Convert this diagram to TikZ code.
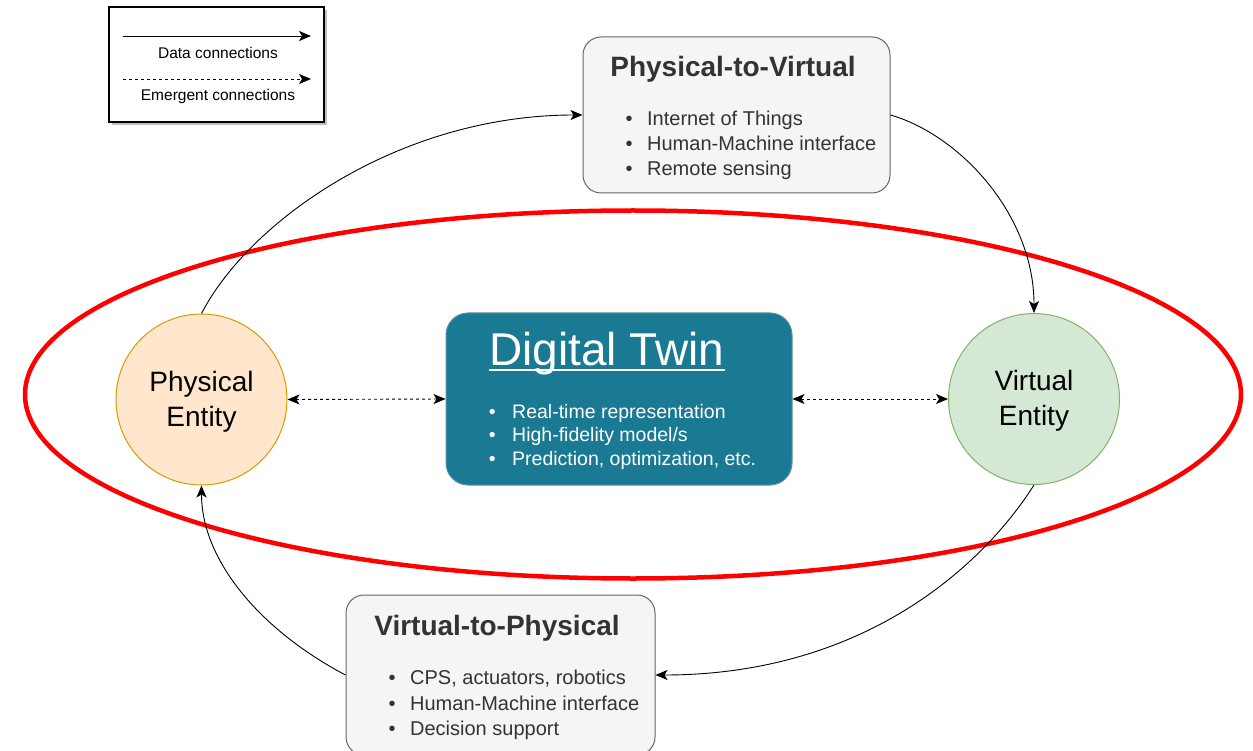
\documentclass[tikz,border=0pt]{standalone}
\usepackage{fontspec}
\setmainfont{Liberation Sans}
\usetikzlibrary{arrows.meta}

\definecolor{greyfill}{HTML}{F5F5F5}
\definecolor{greyline}{HTML}{666666}
\definecolor{greytext}{HTML}{333333}
\definecolor{physfill}{HTML}{FFE6CC}
\definecolor{physline}{HTML}{D79B00}
\definecolor{virtfill}{HTML}{D5E8D4}
\definecolor{virtline}{HTML}{82B366}
\definecolor{twinfill}{HTML}{1A7A93}
\definecolor{twinline}{HTML}{5E8FAA}

\newcommand{\blt}[1]{\makebox[#1][l]{\textbullet}}

\tikzset{
  tip/.style={-{Stealth[length=12pt,width=10pt,inset=3pt]}},
  bothtips/.style={{Stealth[length=12pt,width=10pt,inset=3pt]}-{Stealth[length=12pt,width=10pt,inset=3pt]}},
  dataline/.style={draw=black, line width=0.9pt, tip},
  emergentline/.style={draw=black, line width=0.9pt, dash pattern=on 3pt off 3pt},
  greybox/.style={draw=greyline, fill=greyfill, line width=1pt, rounded corners=18pt, inner sep=0pt},
  entity/.style={circle, line width=1pt, inner sep=0pt, minimum size=171pt},
  entitytext/.style={inner sep=0pt, align=center, font=\fontsize{28}{35}\selectfont},
  plain/.style={inner sep=0pt},
}

\begin{document}
\begin{tikzpicture}[x=1pt, y=-1pt]
\clip (0,0) rectangle (1253,751);
\fill[white] (0,0) rectangle (1253,751);

% legend with drop shadow
\fill[black!25] (112,10) rectangle (327,125);
\node[draw=black, fill=white, line width=1.3pt, minimum width=215pt, minimum height=115pt, inner sep=0pt]
  (legend) at (216.5,64.5) {};
\coordinate (dataA) at (123,36);
\coordinate (dataB) at (311,36);
\coordinate (emerA) at (123,79);
\coordinate (emerB) at (311,79);
\draw[dataline] (dataA) -- (dataB);
\draw[emergentline, tip] (emerA) -- (emerB);
\node[plain, font=\fontsize{15.5}{18}\selectfont] (datalbl) at (218,53) {Data connections};
\node[plain, font=\fontsize{15.5}{18}\selectfont] (emerlbl) at (218,96) {Emergent connections};

% boundary of the digital twin
\draw[red, line width=4.5pt] (633,394.5) ellipse [x radius=608, y radius=184];

% physical-to-virtual box
\node[greybox, minimum width=307pt, minimum height=156pt] (p2v) at (736.5,115) {};
\node[plain, text=greytext, font=\bfseries\fontsize{28}{32}\selectfont] (p2vtitle) at (733,69) {Physical-to-Virtual};
\node[plain, anchor=west, align=left, text=greytext, font=\fontsize{20}{25}\selectfont] (p2vlist) at (625.5,145)
  {\blt{21.5pt}Internet of Things\\ \blt{21.5pt}Human-Machine interface\\ \blt{21.5pt}Remote sensing};

% virtual-to-physical box
\node[greybox, minimum width=309pt, minimum height=160pt] (v2p) at (500.5,675) {};
\node[plain, text=greytext, font=\bfseries\fontsize{28}{32}\selectfont] (v2ptitle) at (497,628) {Virtual-to-Physical};
\node[plain, anchor=west, align=left, text=greytext, font=\fontsize{20}{25.5}\selectfont] (v2plist) at (388.5,705)
  {\blt{21.5pt}CPS, actuators, robotics\\ \blt{21.5pt}Human-Machine interface\\ \blt{21.5pt}Decision support};

% entities
\node[entity, draw=physline, fill=physfill] (pe) at (201.5,399.5) {};
\node[entitytext] (petext) at (201.5,401.5) {Physical\\Entity};
\node[entity, draw=virtline, fill=virtfill] (ve) at (1034,399) {};
\node[entitytext] (vetext) at (1034,401) {Virtual\\Entity};

% digital twin
\node[draw=twinline, fill=twinfill, line width=1pt, rounded corners=22pt, inner sep=0pt,
  minimum width=346pt, minimum height=172pt] (dt) at (619,399) {};
\node[plain, anchor=base, text=white, font=\fontsize{46}{50}\selectfont] (dttitle) at (607,365) {Digital Twin};
\draw[white, line width=2pt] ([yshift=-5pt]dttitle.base west) -- ([yshift=-5pt]dttitle.base east);
\node[plain, anchor=west, align=left, text=white, font=\fontsize{19.5}{23.5}\selectfont] (dtlist) at (488.6,436.5)
  {\blt{23.4pt}Real-time representation\\ \blt{23.4pt}High-fidelity model/s\\ \blt{23.4pt}Prediction, optimization, etc.};

% emergent connections
\draw[emergentline, bothtips] (pe.east) -- (dt.west);
\draw[emergentline, bothtips] (dt.east) -- (ve.west);

% data connections
\draw[dataline] (pe.north) .. controls (250,220) and (400,115) .. (p2v.west);
\draw[dataline] (p2v.east) .. controls (960,135) and (1034,215) .. (ve.north);
\draw[dataline] (ve.south) .. controls (980,570) and (860,675) .. (v2p.east);
\draw[dataline] (v2p.west) .. controls (260,630) and (201.5,560) .. (pe.south);
\end{tikzpicture}
\end{document}
